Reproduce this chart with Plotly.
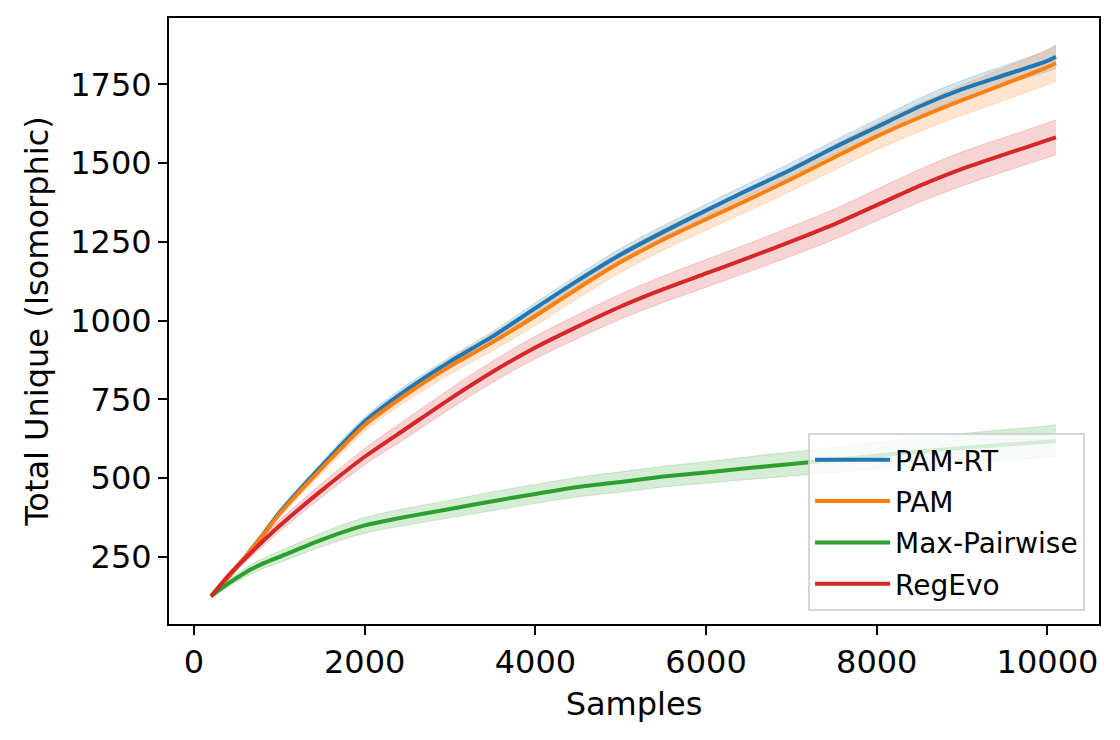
import plotly.graph_objects as go

# sample counts (x) shared by every series
samples = [200, 400, 600, 800, 1000, 1500, 2000, 2500, 3000, 3500, 4000, 4500,
           5000, 5500, 6000, 6500, 7000, 7500, 8000, 8500, 9000, 9500, 10000, 10100]

# mean curves
pam_rt = [125, 185, 250, 318, 390, 540, 680, 782, 870, 950, 1040, 1128,
          1210, 1282, 1350, 1416, 1480, 1550, 1615, 1680, 1735, 1780, 1825, 1838]
pam = [125, 185, 250, 316, 386, 532, 668, 768, 855, 932, 1015, 1103,
       1186, 1258, 1322, 1385, 1450, 1518, 1585, 1645, 1700, 1752, 1805, 1818]
max_pairwise = [125, 165, 200, 228, 250, 305, 350, 378, 402, 427, 450, 472,
                488, 505, 518, 532, 545, 558, 572, 585, 596, 606, 616, 619]
regevo = [125, 190, 245, 298, 348, 462, 568, 660, 752, 838, 915, 982,
          1045, 1100, 1150, 1200, 1252, 1306, 1367, 1428, 1482, 1528, 1573, 1582]

# half-width of the shaded confidence bands
pam_rt_ci = [2, 6, 8, 10, 10, 12, 14, 15, 15, 16, 17, 18, 20, 20, 20, 20, 22, 22, 24, 26, 28, 30, 34, 36]
pam_ci = [2, 6, 8, 10, 12, 16, 20, 22, 25, 27, 30, 32, 33, 34, 35, 36, 38, 40, 42, 45, 48, 52, 56, 58]
max_pairwise_ci = [2, 10, 14, 16, 18, 22, 25, 27, 28, 30, 30, 31, 32, 33, 34, 36, 38, 40, 42, 44, 46, 48, 50, 50]
regevo_ci = [2, 8, 12, 16, 18, 22, 26, 30, 32, 34, 36, 38, 40, 42, 44, 45, 47, 48, 50, 52, 54, 54, 55, 55]

series = [
    ("PAM-RT", pam_rt, pam_rt_ci, (31, 119, 180)),
    ("PAM", pam, pam_ci, (255, 127, 14)),
    ("Max-Pairwise", max_pairwise, max_pairwise_ci, (44, 160, 44)),
    ("RegEvo", regevo, regevo_ci, (214, 39, 40)),
]

FONT = "DejaVu Sans"
fig = go.Figure()

# bands first so every line sits above every band
for name, mean, ci, (r, g, b) in series:
    lo = [m - c for m, c in zip(mean, ci)]
    hi = [m + c for m, c in zip(mean, ci)]
    edge = f"rgba({r},{g},{b},0.2)"
    fig.add_trace(go.Scatter(x=samples, y=lo, mode="lines", line=dict(color=edge, width=1, shape="spline"),
                             showlegend=False, hoverinfo="skip"))
    fig.add_trace(go.Scatter(x=samples, y=hi, mode="lines", line=dict(color=edge, width=1, shape="spline"),
                             fill="tonexty", fillcolor=edge, showlegend=False, hoverinfo="skip"))

for name, mean, ci, (r, g, b) in series:
    fig.add_trace(go.Scatter(x=samples, y=mean, mode="lines", name=name, legendgroup=name,
                             line=dict(color=f"rgb({r},{g},{b})", width=4, shape="spline", smoothing=0.6)))

axis = dict(showline=True, linecolor="black", linewidth=2, mirror=True,
            ticks="outside", ticklen=9, tickwidth=2, tickcolor="black",
            showgrid=False, zeroline=False, automargin=False,
            tickfont=dict(family=FONT, size=32, color="black"))

xticks = [0, 2000, 4000, 6000, 8000, 10000]
yticks = [250, 500, 750, 1000, 1250, 1500, 1750]

# the page body adds an 8px offset, so margins are shifted up/left by 8
fig.update_layout(
    width=1120, height=740,
    margin=dict(l=161, r=29, t=10, b=124),
    plot_bgcolor="white", paper_bgcolor="white",
    xaxis=dict(axis, range=[-293, 10604], tickvals=xticks, ticktext=[str(t) for t in xticks],
               title=dict(text="Samples", font=dict(family=FONT, size=32, color="black"), standoff=12)),
    yaxis=dict(axis, range=[37, 1961], tickvals=yticks, ticktext=[str(t) for t in yticks],
               title=dict(text="Total Unique (Isomorphic)", font=dict(family=FONT, size=32, color="black"),
                          standoff=12)),
    legend=dict(x=0.985, y=0.0215, xanchor="right", yanchor="bottom",
                bgcolor="rgba(255,255,255,0.8)", bordercolor="rgba(204,204,204,0.8)", borderwidth=2,
                font=dict(family=FONT, size=28, color="black"), tracegroupgap=2,
                itemwidth=75),
    showlegend=True,
)

fig.write_html("out.html")
